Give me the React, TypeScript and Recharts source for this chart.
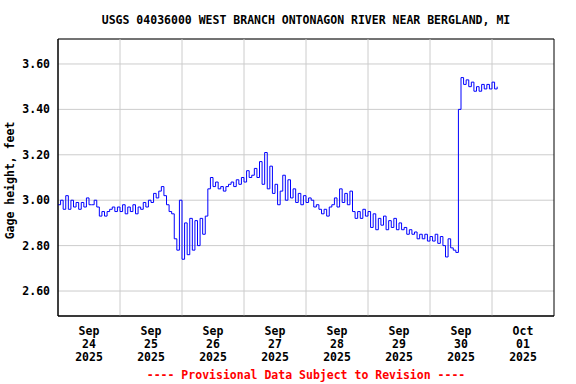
import React from 'react';
import { LineChart, Line, XAxis, YAxis, CartesianGrid, ReferenceLine, ReferenceArea } from 'recharts';

// hourly gage height readings (feet), starting Sep 24 00:00
const sep24 = [2.98, 3.0, 2.96, 3.02, 2.96, 3.0, 2.97, 2.99, 2.96, 2.99, 2.97, 3.01, 2.98, 2.98, 3.0, 2.97, 2.93, 2.95, 2.93, 2.95, 2.96, 2.97, 2.95, 2.97];
const sep25 = [2.95, 2.98, 2.94, 2.97, 2.95, 2.98, 2.94, 2.97, 2.96, 2.99, 2.97, 3.0, 2.99, 3.03, 3.01, 3.04, 3.06, 3.02, 2.98, 2.95, 2.94, 2.83, 2.78, 3.0];
const sep26 = [2.74, 2.9, 2.76, 2.92, 2.78, 2.91, 2.8, 2.92, 2.85, 2.93, 3.05, 3.1, 3.06, 3.08, 3.05, 3.06, 3.04, 3.06, 3.07, 3.08, 3.06, 3.09, 3.07, 3.1];
const sep27 = [3.08, 3.13, 3.1, 3.11, 3.14, 3.1, 3.17, 3.07, 3.21, 3.05, 3.15, 3.03, 3.07, 2.98, 3.04, 3.11, 3.0, 3.09, 3.01, 3.05, 2.99, 3.03, 2.98, 3.02];
const sep28 = [2.99, 3.01, 3.0, 2.97, 2.98, 2.96, 2.94, 2.96, 2.93, 2.97, 2.98, 3.01, 2.97, 3.05, 2.99, 3.03, 2.98, 3.04, 2.95, 2.92, 2.95, 2.92, 2.96, 2.93];
const sep29 = [2.95, 2.88, 2.94, 2.87, 2.92, 2.89, 2.93, 2.87, 2.91, 2.88, 2.92, 2.87, 2.9, 2.87, 2.88, 2.85, 2.87, 2.85, 2.86, 2.83, 2.85, 2.83, 2.85, 2.82];
const sep30 = [2.84, 2.82, 2.85, 2.81, 2.84, 2.8, 2.75, 2.83, 2.79, 2.78, 2.77, 3.4, 3.54, 3.51, 3.53, 3.5, 3.52, 3.48, 3.5, 3.48, 3.51, 3.49, 3.51, 3.49];
const oct01 = [3.52, 3.49, 3.5];

const dayLabels = [
  ['Sep', '24', '2025'],
  ['Sep', '25', '2025'],
  ['Sep', '26', '2025'],
  ['Sep', '27', '2025'],
  ['Sep', '28', '2025'],
  ['Sep', '29', '2025'],
  ['Sep', '30', '2025'],
  ['Oct', '01', '2025'],
];
const yTicks = [2.6, 2.8, 3.0, 3.2, 3.4, 3.6];

const readings = [sep24, sep25, sep26, sep27, sep28, sep29, sep30, oct01].flat();
const data = readings.map((gh, i) => ({ hour: i, gh }));
const noonTicks = dayLabels.map((_, d) => d * 24 + 12);
const midnights = dayLabels.slice(1).map((_, d) => (d + 1) * 24);

const FONT = '"DejaVu Sans Mono", monospace';

const DayTick = (props: any) => {
  const { x, y, payload } = props;
  const lbl = dayLabels[(payload.value - 12) / 24] || [];
  return (
    <text x={x} y={y} textAnchor="middle" fontFamily={FONT} fontWeight="bold" fontSize={11.5} fill="#000">
      {lbl.map((s, i) => (
        <tspan key={i} x={x} dy={i === 0 ? 11 : 13}>{s}</tspan>
      ))}
    </text>
  );
};

export default function App() {
  return (
    <div style={{ position: 'absolute', left: 0, top: 0, width: 576, height: 384, background: '#fff' }}>
      <LineChart width={576} height={384} data={data} margin={{ top: 39, right: 22, left: 0, bottom: 0 }}>
        <text x={306} y={24} textAnchor="middle" fontFamily={FONT} fontWeight="bold" fontSize={11.5} fill="#000">
          USGS 04036000 WEST BRANCH ONTONAGON RIVER NEAR BERGLAND, MI
        </text>
        <text x={306} y={379} textAnchor="middle" fontFamily={FONT} fontWeight="bold" fontSize={11.5} fill="#ff0000">
          ---- Provisional Data Subject to Revision ----
        </text>
        <CartesianGrid vertical={false} stroke="#cccccc" strokeWidth={1} />
        {midnights.map((m) => (
          <ReferenceLine key={m} x={m} stroke="#cccccc" strokeWidth={1} />
        ))}
        <XAxis
          dataKey="hour"
          type="number"
          domain={[0, 192]}
          ticks={noonTicks}
          tick={<DayTick />}
          tickLine={false}
          axisLine={{ stroke: '#000' }}
          height={68}
          interval={0}
        />
        <YAxis
          type="number"
          domain={[2.49, 3.71]}
          ticks={yTicks}
          tickFormatter={(v: number) => v.toFixed(2)}
          tickLine={false}
          axisLine={{ stroke: '#000' }}
          width={58}
          tick={{ fontFamily: FONT, fontWeight: 'bold', fontSize: 11.5, fill: '#000' }}
          label={{
            value: 'Gage height, feet',
            angle: -90,
            position: 'insideLeft',
            dx: 5,
            dy: 3,
            style: { fontFamily: FONT, fontWeight: 'bold', fontSize: 11.5, fill: '#000', textAnchor: 'middle' },
          }}
        />
        <ReferenceArea x1={0} x2={192} y1={2.49} y2={3.71} fill="none" stroke="#000" strokeWidth={1} />
        <Line type="stepAfter" dataKey="gh" stroke="#0000ff" strokeWidth={1} dot={false} isAnimationActive={false} />
      </LineChart>
    </div>
  );
}
